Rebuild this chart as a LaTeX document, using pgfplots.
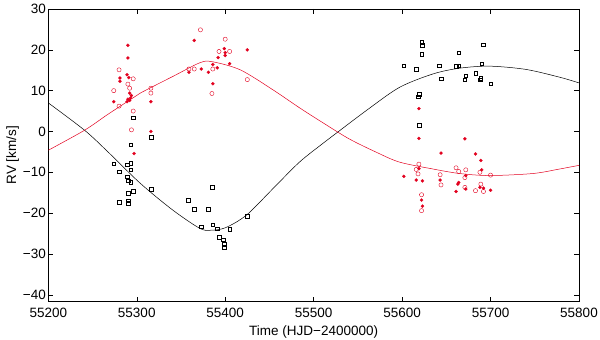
\documentclass[border=0pt]{standalone}
\usepackage{fontspec}
\setmainfont{Liberation Sans}
\usepackage{pgfplots}
\pgfplotsset{compat=1.18}
\definecolor{rvred}{RGB}{226,0,30}
\begin{document}
\begin{tikzpicture}
\begin{axis}[
  at={(0,0)}, anchor=south west,
  scale only axis, width=530.7bp, height=292.7bp,
  xmin=55200, xmax=55800, ymin=-41.7, ymax=30,
  scaled x ticks=false, scaled y ticks=false,
  xtick={55200,55300,55400,55500,55600,55700,55800},
  xticklabels={55200,55300,55400,55500,55600,55700,55800},
  ytick={-40,-30,-20,-10,0,10,20,30},
  yticklabels={−40,−30,−20,−10,0,10,20,30},
  tick align=inside, major tick length=5bp,
  tick style={black, line width=0.4pt},
  axis line style={line width=0.6pt},
  font=\fontsize{13.5bp}{16bp}\selectfont,
  tick label style={font=\fontsize{13.5bp}{16bp}\selectfont},
  xticklabel style={yshift=-3bp},
  yticklabel style={xshift=1bp},
  xlabel={Time (HJD−2400000)},
  ylabel={RV [km/s]},
  label style={font=\fontsize{13.5bp}{16bp}\selectfont},
  xlabel style={yshift=-1bp},
  ylabel style={yshift=-3bp},
  clip=true,
]
% black model curve
\addplot[black, line width=0.5pt, smooth] coordinates {
(55200,7.0) (55241,0.3) (55266,-4.7) (55304,-12.7) (55341,-19.3) (55371,-23.7)
(55383,-24.2) (55400,-23.6) (55424,-20.5) (55454,-14.0) (55484,-7.5) (55510,-3.0) (55530,0.3)
(55560,5.2) (55597,10.8) (55635,14.1) (55665,15.5) (55699,16.0) (55740,15.2) (55778,13.3) (55800,11.9)
};
% red model curve
\addplot[rvred, line width=0.5pt, smooth] coordinates {
(55200,-4.6) (55241,0.3) (55266,4.0) (55292,7.7) (55304,9.4) (55341,13.5) (55371,16.8)
(55385,17.1) (55417,15.1) (55454,10.2) (55484,5.8) (55510,2.2) (55540,-1.8) (55570,-5.0)
(55597,-7.5) (55635,-9.2) (55665,-10.3) (55699,-10.8) (55748,-10.3) (55778,-9.2) (55800,-8.3)
};
% black squares
\addplot[only marks, mark=square, mark size=1.8bp, mark options={black, line width=0.4pt}] coordinates {
(55296,3.4) (55293,-3.2) (55316,-1.4)
(55274,-7.9) (55289,-8.1) (55293,-7.7) (55280,-9.9) (55293,-9.4) (55289,-11.1)
(55290,-12.1) (55293,-12.5) (55296,-14.6) (55290,-15.1) (55316,-14.1)
(55280,-17.3) (55290,-17.0) (55290,-17.6)
(55385,-13.6) (55358,-16.9) (55365,-19.1) (55381,-19.1) (55373,-23.3) (55386,-22.8)
(55391,-23.8) (55405,-24.0) (55425,-20.7) (55393,-25.9) (55398,-26.5) (55399,-27.6) (55399,-28.3)
(55622,21.8) (55623,21.2) (55692,21.3) (55622,19.0) (55664,19.3) (55602,16.1)
(55616,15.3) (55642,16.1) (55661,16.0) (55664,16.1) (55690,16.6) (55644,12.9)
(55672,13.7) (55671,12.7) (55683,14.2) (55688,12.7) (55689,13.0) (55700,11.7)
(55619,9.2) (55618,8.5) (55619,1.5)
};
% red open circles
\addplot[only marks, mark=o, mark size=2.1bp, mark options={rvred, line width=0.4pt}] coordinates {
(55280,15.1) (55296,12.9) (55290,11.6) (55292,10.6) (55274,10.0) (55316,10.6)
(55316,9.4) (55280,6.2) (55296,5.0) (55294,0.4)
(55372,24.9) (55400,22.6) (55393,19.6) (55405,19.6) (55359,15.3) (55365,15.3)
(55386,15.3) (55425,12.7) (55385,9.3)
(55619,-8.0) (55616,-9.3) (55618,-10.4) (55643,-10.6) (55644,-13.1) (55661,-8.9)
(55664,-9.8) (55672,-9.4) (55671,-11.3) (55688,-10.0) (55700,-10.7) (55689,-12.9)
(55671,-13.7) (55683,-14.5) (55692,-14.7) (55622,-15.5) (55622,-19.4)
};
% red filled dots
\addplot[only marks, mark=*, mark size=1.6bp, mark options={rvred, fill=rvred, line width=0.2pt}] coordinates {
(55290,21.1) (55290,18.0) (55281,13.1) (55281,12.3) (55289,13.9) (55291,13.2)
(55292,9.4) (55294,8.8) (55293,8.2) (55290,7.9) (55292,7.6) (55289,7.3)
(55274,7.3) (55316,7.3) (55316,0.0) (55297,-5.4)
(55365,22.3) (55399,20.3) (55400,19.3) (55400,18.6) (55425,20.0) (55392,18.1)
(55405,16.6) (55359,14.5) (55373,15.3) (55381,14.5) (55386,16.4) (55391,15.6) (55386,11.7)
(55619,5.6) (55619,-1.7) (55671,-1.8) (55644,-5.3) (55683,-5.5) (55689,-7.1)
(55619,-9.1) (55602,-11.0) (55690,-9.4) (55616,-11.9) (55623,-12.1) (55643,-11.9)
(55664,-12.5) (55663,-12.9) (55661,-14.7) (55672,-14.1) (55688,-13.7) (55692,-13.9)
(55700,-14.4) (55622,-16.8) (55623,-18.3) (55672,-10.8)
};
\end{axis}
\pgfresetboundingbox
\path[use as bounding box] (-48.3bp,-38.3bp) rectangle (551.7bp,301.7bp);
\end{tikzpicture}
\end{document}
